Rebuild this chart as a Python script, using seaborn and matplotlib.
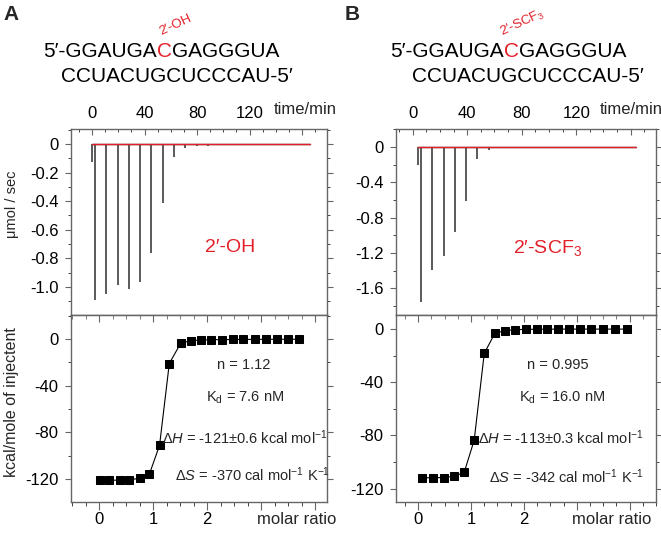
import numpy as np
import pandas as pd
import matplotlib
matplotlib.use('Agg')
import matplotlib.pyplot as plt
import seaborn as sns
from matplotlib.ticker import MultipleLocator, FuncFormatter

sns.set_style('ticks')
plt.rcParams['font.family'] = ['Liberation Sans', 'DejaVu Sans']
plt.rcParams['axes.unicode_minus'] = False
plt.rcParams['mathtext.fontset'] = 'custom'
plt.rcParams['mathtext.rm'] = 'Liberation Sans'
plt.rcParams['mathtext.it'] = 'Liberation Sans:italic'

W, H = 661, 536
RED = '#e3202a'
FRAME = '#666666'

# ---- raw ITC traces (time in min, peak in µmol/sec) ----
oh_pre_time = 0.0
oh_pre_peak = -0.124
oh_inj_time = [2.3, 10.9, 19.5, 28.1, 36.7, 45.3, 53.9, 62.5, 71.1, 79.7,
               88.3, 96.9, 105.5, 114.1, 122.7, 131.3, 139.9, 148.5, 157.1, 165.7]
oh_inj_peak = [-1.093, -1.047, -0.984, -1.012, -0.963, -0.762, -0.416, -0.089, -0.030, -0.015,
               -0.012, -0.010, -0.010, -0.010, -0.010, -0.010, -0.010, -0.010, -0.010, -0.010]

scf_pre_time = 3.6
scf_pre_peak = -0.20
scf_inj_time = [6.0, 14.3, 22.6, 30.9, 39.2, 47.5, 55.8, 64.1, 72.4, 80.7,
                89.0, 97.3, 105.6, 113.9, 122.2, 130.5, 138.8, 147.1, 155.4, 163.7]
scf_inj_peak = [-1.75, -1.39, -1.23, -0.965, -0.605, -0.13, -0.03, -0.015, -0.012, -0.010,
                -0.010, -0.010, -0.010, -0.010, -0.010, -0.010, -0.010, -0.010, -0.010, -0.010]

# ---- integrated heats (kcal/mole of injectant) ----
oh_ratio = [0.01, 0.19, 0.38, 0.56, 0.75, 0.93, 1.12, 1.30, 1.51, 1.70,
            1.88, 2.08, 2.28, 2.48, 2.67, 2.88, 3.09, 3.30, 3.50, 3.71]
oh_heat = [-121, -121, -121, -120.5, -119.5, -116, -91, -21, -3.7, -1.4,
           -0.8, -0.6, -0.5, -0.4, -0.3, -0.3, -0.2, -0.2, -0.2, -0.2]

scf_ratio = [0.08, 0.28, 0.48, 0.68, 0.87, 1.06, 1.25, 1.45, 1.64, 1.84,
             2.04, 2.24, 2.44, 2.65, 2.86, 3.06, 3.27, 3.50, 3.73, 3.96]
scf_heat = [-111.8, -111.8, -111.6, -110.6, -107.8, -83.5, -18.3, -3.3, -1.25, -0.5,
            -0.3, -0.2, -0.2, -0.1, -0.1, -0.1, -0.1, -0.1, -0.1, -0.1]

oh_stats = ['n = 1.12', r'K$_\mathrm{d}$ = 7.6 nM',
            r'$\Delta\mathit{H}$ = -121±0.6 kcal mol$^{-1}$',
            r'$\Delta\mathit{S}$ = -370 cal mol$^{-1}$ K$^{-1}$']
scf_stats = ['n = 0.995', r'K$_\mathrm{d}$ = 16.0 nM',
             r'$\Delta\mathit{H}$ = -113±0.3 kcal mol$^{-1}$',
             r'$\Delta\mathit{S}$ = -342 cal mol$^{-1}$ K$^{-1}$']

fig = plt.figure(figsize=(W / 100, H / 100), dpi=100)


def rect(x0, y0, x1, y1):
    return [x0 / W, 1 - y1 / H, (x1 - x0) / W, (y1 - y0) / H]


def fxy(x, y):
    return x / W, 1 - y / H


def frame(ax):
    for s in ax.spines.values():
        s.set_visible(True)
        s.set_color(FRAME)
        s.set_linewidth(1.0)
    ax.tick_params(colors=FRAME, labelcolor='black', labelsize=12)


def raw_panel(ax, pre_t, pre_p, times, peaks, xlim, ylim, ymaj, ymin):
    t_all = [pre_t] + times
    p_all = [pre_p] + peaks
    ax.vlines(t_all, p_all, 0, color='#2e2e2e', lw=1.1)
    sns.lineplot(x=[pre_t, times[-1]], y=[0, 0], ax=ax, color='#2e2e2e', lw=1.0)
    sns.lineplot(x=[pre_t, times[-1]], y=[0, 0], ax=ax, color=RED, lw=1.0)
    ax.set_xlim(*xlim)
    ax.set_ylim(*ylim)
    frame(ax)
    ax.xaxis.tick_top()
    ax.xaxis.set_major_locator(MultipleLocator(40))
    ax.xaxis.set_minor_locator(MultipleLocator(10))
    ax.xaxis.set_major_formatter(FuncFormatter(lambda v, p: f'{v:.0f}' if 0 <= v <= 120 else ''))
    ax.tick_params(axis='x', which='both', direction='in', top=True, bottom=False, pad=6)
    ax.tick_params(axis='x', which='major', length=4)
    ax.tick_params(axis='x', which='minor', length=2.5)
    ax.yaxis.set_major_locator(MultipleLocator(ymaj))
    ax.yaxis.set_minor_locator(MultipleLocator(ymin))
    ax.yaxis.set_major_formatter(FuncFormatter(lambda v, p: '0' if abs(v) < 1e-9 else f'{v:.1f}'))
    ax.tick_params(axis='y', which='both', direction='out', left=True, right=True, pad=5)
    ax.tick_params(axis='y', which='major', length=4)
    ax.tick_params(axis='y', which='minor', length=2.5)
    ax.set_xlabel('')
    ax.set_ylabel('')


def iso_panel(ax, ratio, heat, xlim, ylim):
    sns.lineplot(x=ratio, y=heat, ax=ax, color='black', lw=0.8, marker='s',
                 markersize=5.5, markeredgecolor='black', estimator=None, sort=False)
    ax.set_xlim(*xlim)
    ax.set_ylim(*ylim)
    frame(ax)
    ax.xaxis.set_major_locator(MultipleLocator(1))
    ax.xaxis.set_minor_locator(MultipleLocator(0.25))
    ax.xaxis.set_major_formatter(FuncFormatter(lambda v, p: f'{v:.0f}' if -0.1 < v < 2.1 else ''))
    ax.tick_params(axis='x', which='both', direction='out', top=False, bottom=True, pad=1)
    ax.tick_params(axis='x', which='major', length=6)
    ax.tick_params(axis='x', which='minor', length=3)
    ax.yaxis.set_major_locator(MultipleLocator(40))
    ax.yaxis.set_minor_locator(MultipleLocator(20))
    ax.yaxis.set_major_formatter(FuncFormatter(lambda v, p: f'{v:.0f}'))
    ax.tick_params(axis='y', which='both', direction='out', left=True, right=True, pad=5)
    ax.tick_params(axis='y', which='major', length=4)
    ax.tick_params(axis='y', which='minor', length=2.5)
    ax.set_xlabel('')
    ax.set_ylabel('')
    # inward ticks along the top (separator line)
    sec = ax.secondary_xaxis('top')
    sec.xaxis.set_major_locator(MultipleLocator(1))
    sec.xaxis.set_minor_locator(MultipleLocator(0.25))
    sec.tick_params(axis='x', which='both', direction='in', labeltop=False, colors=FRAME)
    sec.tick_params(axis='x', which='major', length=5)
    sec.tick_params(axis='x', which='minor', length=3)
    sec.spines['top'].set_color(FRAME)


ax1 = fig.add_axes(rect(71, 129, 327, 315))
raw_panel(ax1, oh_pre_time, oh_pre_peak, oh_inj_time, oh_inj_peak,
          (-16, 179), (-1.196, 0.105), 0.2, 0.1)
ax2 = fig.add_axes(rect(71, 315, 327, 502))
iso_panel(ax2, oh_ratio, oh_heat, (-0.52, 4.22), (-139.7, 20.6))

ax3 = fig.add_axes(rect(396, 129, 656, 315))
raw_panel(ax3, scf_pre_time, scf_pre_peak, scf_inj_time, scf_inj_peak,
          (-12.3, 178.6), (-1.90, 0.204), 0.4, 0.2)
ax4 = fig.add_axes(rect(396, 315, 656, 502))
iso_panel(ax4, scf_ratio, scf_heat, (-0.42, 4.50), (-130, 10.5))

# axis captions
fig.text(*fxy(305, 110), 'time/min', fontsize=12, ha='center', va='center')
fig.text(*fxy(631, 110), 'time/min', fontsize=12, ha='center', va='center')
fig.text(*fxy(297, 519), 'molar ratio', fontsize=12, ha='center', va='center')
fig.text(*fxy(612, 519), 'molar ratio', fontsize=12, ha='center', va='center')
fig.text(*fxy(12, 204), 'μmol / sec', fontsize=10.5, rotation=90, ha='center', va='center')
fig.text(*fxy(12, 402), 'kcal/mole of injectent', fontsize=11.5, rotation=90, ha='center', va='center')

# labels inside raw panels
fig.text(*fxy(230, 247), '2′-OH', fontsize=14, color=RED, ha='center', va='center')
fig.text(*fxy(548, 248), r'2′-SCF$_3$', fontsize=14, color=RED, ha='center', va='center')

# fit parameters
for txt, (x, y) in zip(oh_stats, [(244, 365), (245, 398), (245, 438), (253, 475)]):
    fig.text(*fxy(x, y), txt, fontsize=10.5, ha='center', va='center')
for txt, (x, y) in zip(scf_stats, [(558, 365), (562, 398), (561, 438), (567, 477)]):
    fig.text(*fxy(x, y), txt, fontsize=10.5, ha='center', va='center')

# panel letters
fig.text(*fxy(3, 20), 'A', fontsize=15, fontweight='bold', ha='left', va='baseline')
fig.text(*fxy(345, 20), 'B', fontsize=15, fontweight='bold', ha='left', va='baseline')

# RNA duplex sequences with the modified C in red
renderer = fig.canvas.get_renderer()


def strand(x, y, parts):
    cx = None
    for s, c in parts:
        t = fig.text(*fxy(x, y), s, fontsize=15, color=c, ha='left', va='baseline')
        bb = t.get_window_extent(renderer)
        if c != 'black':
            cx = x + bb.width / 2
        x += bb.width
    return cx


c1 = strand(43, 56.7, [('5′-GGAUGA', 'black'), ('C', RED), ('GAGGGUA', 'black')])
strand(61, 81.7, [('CCUACUGCUCCCAU-5′', 'black')])
c2 = strand(390, 56.7, [('5′-GGAUGA', 'black'), ('C', RED), ('GAGGGUA', 'black')])
strand(412, 81.7, [('CCUACUGCUCCCAU-5′', 'black')])

fig.text(*fxy(c1 + 11, 25), '2′-OH', fontsize=9.5, color=RED, rotation=25,
         ha='center', va='center')
fig.text(*fxy(c2 + 11, 23), r'2′-SCF$_3$', fontsize=9.5, color=RED, rotation=25,
         ha='center', va='center')

fig.savefig('out.png', dpi=100)
